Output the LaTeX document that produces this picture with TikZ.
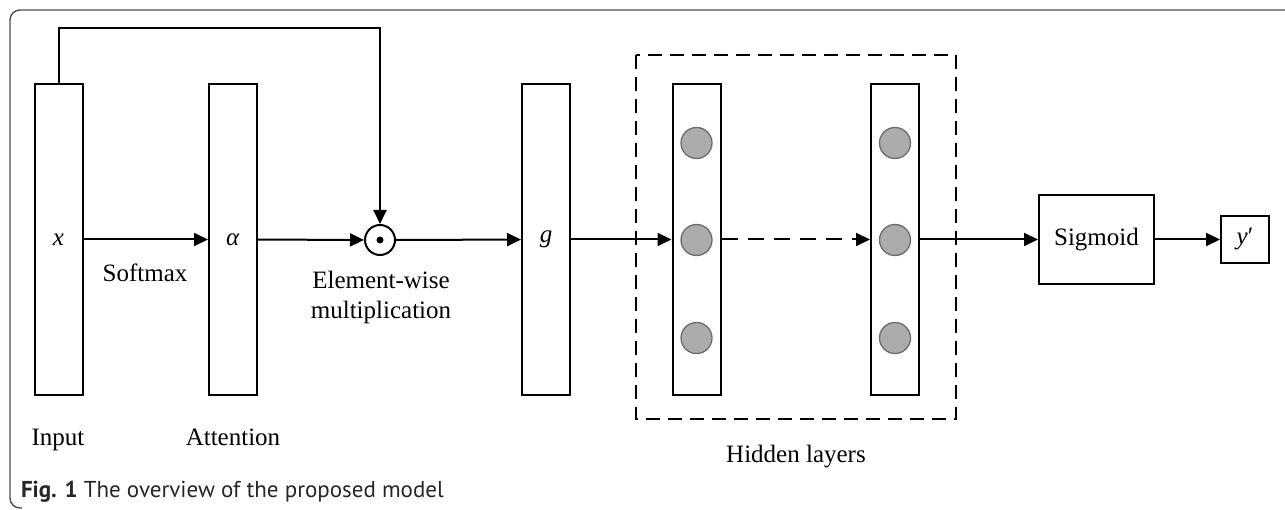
\documentclass[tikz,border=0pt]{standalone}
\usepackage{fontspec}
\setmainfont{Liberation Serif}
\newfontfamily\capfont{PT Sans}
\usetikzlibrary{arrows.meta}

\tikzset{
    bar/.style={rectangle, draw, fill=white, inner sep=0pt, minimum width=48pt, minimum height=311pt},
    unit/.style={circle, draw=gray!85!black, fill=gray!65, line width=1.3pt, inner sep=0pt, minimum size=31pt},
    box/.style={rectangle, draw, fill=white, inner sep=0pt},
    lbl/.style={anchor=base, inner sep=0pt}
}

\begin{document}
\begin{tikzpicture}[x=1pt, y=-1pt, line width=2pt, >={Triangle[length=14pt,width=13pt]},
        font=\fontsize{25}{30}\selectfont]
        \useasboundingbox (0,0) rectangle (1285,510);
        \draw[gray!60!black, line width=1.4pt, rounded corners=10pt] (1290,10) -- (10,10) -- (10,508) -- (22,508);

        \node[bar] (inp) at (58.5,239.5) {\textit{x}};
        \node[bar] (att) at (233,239.5) {\textit{α}};
        \node[circle, draw, inner sep=0pt, minimum size=30pt] (mul) at (380,240) {};
        \fill (mul.center) circle (3.5pt);
        \node[bar] (g) at (546,239.5) {\textit{g}};

        \draw[dash pattern=on 14pt off 8pt] (636,55) rectangle (956,419);
        \node[bar] (hid1) at (696.5,239.5) {};
        \node[bar] (hid2) at (895,239.5) {};
        \node[unit] (h1a) at (696.5,143) {};
        \node[unit] (h1b) at (696.5,240) {};
        \node[unit] (h1c) at (696.5,338) {};
        \node[unit] (h2a) at (895,143) {};
        \node[unit] (h2b) at (895,240) {};
        \node[unit] (h2c) at (895,338) {};

        \node[box, minimum width=115pt, minimum height=89pt] (sig) at (1096.5,239.5) {Sigmoid};
        \node[box, minimum width=48pt, minimum height=47pt] (out) at (1245,239.5) {\textit{y}′};

        \coordinate (skip) at (380,28);
        \draw[->] (inp.north) |- (skip) -- (mul);
        \draw[->] (inp) -- (att);
        \draw[->] (att) -- (mul);
        \draw[->] (mul) -- (g);
        \draw[->] (g) -- (hid1);
        \draw[->, dash pattern=on 16pt off 10pt] (hid1) -- (hid2);
        \draw[->] (hid2) -- (sig);
        \draw[->] (sig) -- (out);

        \node[lbl] (smx) at (145,282) {Softmax};
        \node[align=center, inner sep=0pt] (ew) at (381,297) {Element-wise\\multiplication};
        \node[lbl] (inplbl) at (58,445) {Input};
        \node[lbl] (attlbl) at (233,445) {Attention};
        \node[lbl] (hidlbl) at (796,462) {Hidden layers};
        \node[anchor=base west, inner sep=0pt, text=black!85, font=\capfont\fontsize{23}{27}\selectfont] (cap) at (20,497)
            {\textbf{Fig. 1} The overview of the proposed model};
    \end{tikzpicture}
\end{document}
